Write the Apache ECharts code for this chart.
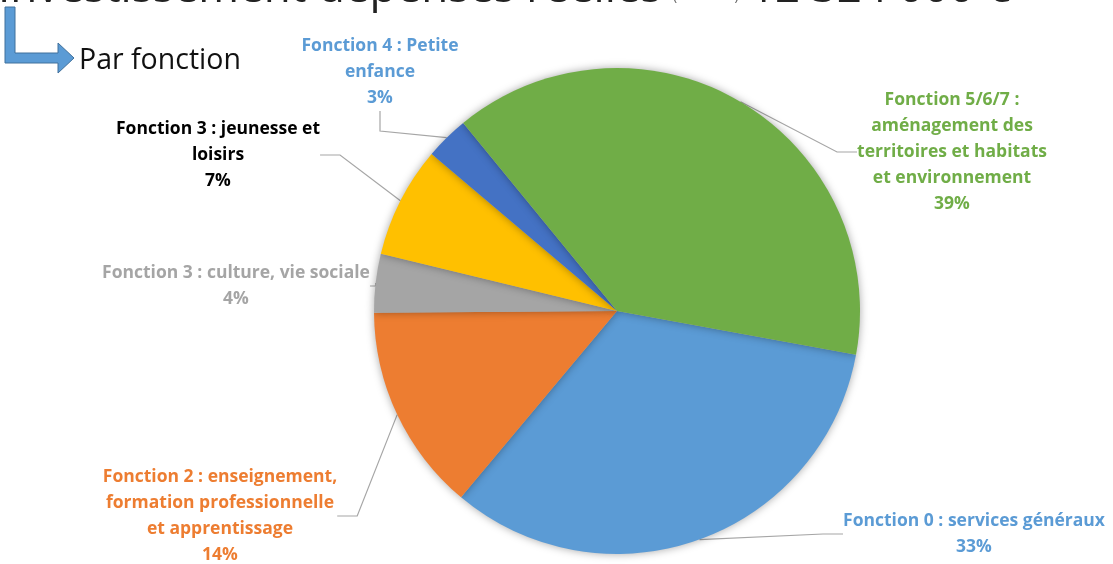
<!DOCTYPE html>
<html>
<head>
<meta charset="utf-8">
<script src="https://cdn.jsdelivr.net/npm/echarts@6/dist/echarts.min.js"></script>
<style>
html,body{margin:0;padding:0;background:#fff;}
#chart{width:1113px;height:564px;}
</style>
</head>
<body>
<div id="chart"></div>
<script>
// Data
const categories = [
  "Fonction 0 : services généraux",
  "Fonction 2 : enseignement,\nformation professionnelle\net apprentissage",
  "Fonction 3 : culture, vie sociale",
  "Fonction 3 : jeunesse et\nloisirs",
  "Fonction 4 : Petite\nenfance",
  "Fonction 5/6/7 :\naménagement des\nterritoires et habitats\net environnement"
];
const shares = [33.2, 13.8, 3.9, 7.4, 2.9, 38.8];

// Styling
const colors = ['#5B9BD5', '#ED7D31', '#A5A5A5', '#FFC000', '#4472C4', '#70AD47'];
const labelColors = ['#5B9BD5', '#ED7D31', '#A5A5A5', '#000000', '#5B9BD5', '#70AD47'];
const labelPos = [[974, 534], [220, 516], [236, 286], [218, 155], [380, 72], [952, 152]];

const chart = echarts.init(document.getElementById('chart'));
chart.setOption({
  animation: false,
  backgroundColor: '#ffffff',
  graphic: [
    { type: 'text', left: -2, top: -33, style: {
        text: '{a|Investissement dépenses réelles }{s|(en euros)}{a| 12 324 000 €}',
        rich: { a: { font: '44px "Open Sans"', fill: '#222', verticalAlign: 'bottom' },
                s: { font: '14px "Open Sans"', fill: '#666', verticalAlign: 'bottom', padding: [0, 0, 8, 0] } } } },
    { type: 'polygon', shape: { points: [[5, 7], [15, 7], [15, 53], [58, 53], [58, 43], [74, 58], [58, 73], [58, 63], [5, 63]] },
      style: { fill: '#5B9BD5', stroke: '#41719C', lineWidth: 1 } },
    { type: 'text', left: 79, top: 46, style: { text: 'Par fonction', font: '28.5px "Open Sans"', fill: '#111' } }
  ],
  series: [{
    type: 'pie',
    center: [617, 311],
    radius: 243,
    startAngle: -10.4,
    clockwise: true,
    percentPrecision: 0,
    avoidLabelOverlap: false,
    data: categories.map((n, i) => ({
      name: n, value: shares[i],
      itemStyle: { color: colors[i] },
      label: { color: labelColors[i] }
    })),
    itemStyle: { shadowBlur: 8, shadowColor: 'rgba(0,0,0,0.35)', borderWidth: 0 },
    label: {
      show: true,
      position: 'outside',
      formatter: '{b}\n{d}%',
      fontFamily: 'Open Sans',
      fontWeight: 'bold',
      fontSize: 17.5,
      lineHeight: 26,
      align: 'center'
    },
    labelLine: { show: true, lineStyle: { color: '#A6A6A6', width: 1.2 }, length: 20, length2: 20 },
    labelLayout: function (p) {
      const pos = labelPos[p.dataIndex];
      return { x: pos[0], y: pos[1], align: 'center', verticalAlign: 'middle' };
    },
    emphasis: { disabled: true }
  }]
});
</script>
</body>
</html>
